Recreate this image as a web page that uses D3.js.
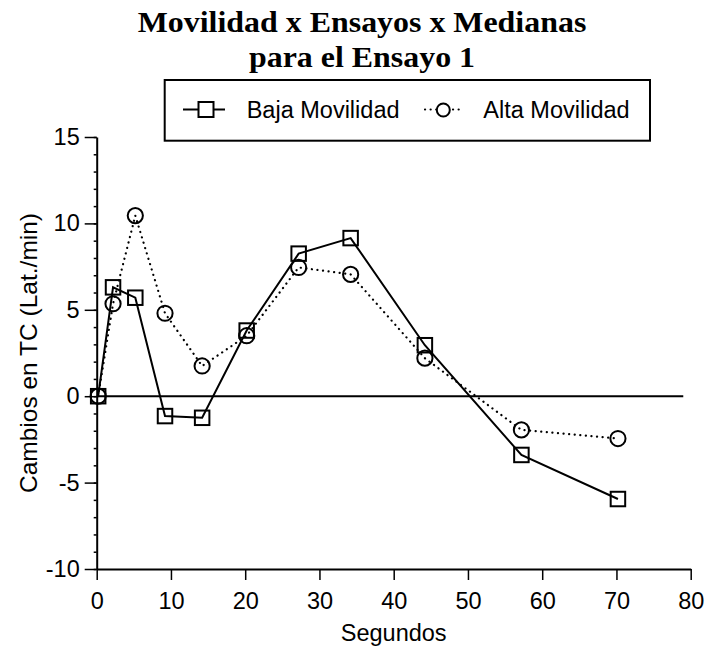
<!DOCTYPE html>
<html>
<head>
<meta charset="utf-8">
<script src="https://cdn.jsdelivr.net/npm/d3@7"></script>
<style>
  html, body { margin: 0; padding: 0; background: #fff; }
  svg { display: block; }
</style>
</head>
<body>
<svg id="chart" width="706" height="649"></svg>
<script>
// Median heart-rate change per second, by mobility group (trial 1)
const seconds = [0.2, 2.2, 5.2, 9.2, 14.2, 20.2, 27.2, 34.2, 44.2, 57.2, 70.2];
const bajaMovilidad = [0, 6.3, 5.7, -1.15, -1.25, 3.8, 8.25, 9.15, 2.95, -3.4, -5.95];
const altaMovilidad = [0, 5.35, 10.45, 4.8, 1.75, 3.5, 7.45, 7.05, 2.2, -1.95, -2.45];
const xTicks = [0, 10, 20, 30, 40, 50, 60, 70, 80];
const yTicks = [-10, -5, 0, 5, 10, 15];
const titleLines = ["Movilidad x Ensayos x Medianas", "para el Ensayo 1"];
const seriesNames = ["Baja Movilidad", "Alta Movilidad"];

const svg = d3.select("#chart");
const sans = "'Liberation Sans', Arial, Helvetica, sans-serif";
const serif = "'Liberation Serif', 'Times New Roman', Times, serif";
const fmt = d => String(d); // plain hyphen for negatives

const x = d3.scaleLinear().domain([0, 80]).range([96.7, 690.7]);
const y = d3.scaleLinear().domain([-10, 15]).range([569, 137]);

// Text slightly widened horizontally
const wide = (sel, cx, cy, sx) => sel.attr("transform", `translate(${cx},${cy}) scale(${sx},1)`);

// Title
svg.append("g").selectAll("text").data(titleLines).join("text")
  .each(function (d, i) { wide(d3.select(this), 362, 32 + i * 35, 1.12); })
  .attr("text-anchor", "middle")
  .attr("font-family", serif).attr("font-weight", "bold").attr("font-size", 28.5)
  .attr("fill", "#000").text(d => d);

// Minor y ticks
svg.append("g").attr("transform", `translate(${x(0)},0)`)
  .call(d3.axisLeft(y).tickValues(d3.range(-10, 16, 1)).tickSize(3).tickFormat(""))
  .call(g => g.select(".domain").remove())
  .call(g => g.selectAll("line").attr("stroke", "#000").attr("stroke-width", 1.5));

// Y axis
svg.append("g").attr("transform", `translate(${x(0)},0)`)
  .call(d3.axisLeft(y).tickValues(yTicks).tickFormat(fmt).tickSize(12).tickSizeOuter(0).tickPadding(5))
  .call(g => g.select(".domain").attr("stroke", "#000").attr("stroke-width", 2))
  .call(g => g.selectAll(".tick line").attr("stroke", "#000").attr("stroke-width", 1.5))
  .call(g => g.selectAll("text").attr("font-family", sans).attr("font-size", 23.5).attr("fill", "#000"));

// X axis
svg.append("g").attr("transform", `translate(0,${y(-10)})`)
  .call(d3.axisBottom(x).tickValues(xTicks).tickFormat(fmt).tickSize(11).tickSizeOuter(0).tickPadding(12))
  .call(g => g.select(".domain").attr("stroke", "#000").attr("stroke-width", 2))
  .call(g => g.selectAll(".tick line").attr("stroke", "#000").attr("stroke-width", 1.5))
  .call(g => g.selectAll("text").attr("font-family", sans).attr("font-size", 23.5).attr("fill", "#000"));

// Zero reference line
svg.append("line")
  .attr("x1", x(0)).attr("x2", x(79))
  .attr("y1", y(0)).attr("y2", y(0))
  .attr("stroke", "#000").attr("stroke-width", 2);

// Axis titles
svg.append("text")
  .attr("x", (x(0) + x(80)) / 2).attr("y", 641)
  .attr("text-anchor", "middle")
  .attr("font-family", sans).attr("font-size", 23.5).attr("fill", "#000")
  .text("Segundos");

svg.append("text")
  .attr("transform", `translate(37,${(y(15) + y(-10)) / 2}) rotate(-90)`)
  .attr("text-anchor", "middle")
  .attr("font-family", sans).attr("font-size", 24.5).attr("fill", "#000")
  .text("Cambios en TC (Lat./min)");

const line = d3.line().x(d => x(d[0])).y(d => y(d[1]));
const bajaPts = seconds.map((s, i) => [s, bajaMovilidad[i]]);
const altaPts = seconds.map((s, i) => [s, altaMovilidad[i]]);

// Alta movilidad: dotted line with circles
svg.append("path").datum(altaPts)
  .attr("d", line).attr("fill", "none")
  .attr("stroke", "#000").attr("stroke-width", 2.2)
  .attr("stroke-dasharray", "0.1,5.5").attr("stroke-linecap", "round");

svg.append("g").selectAll("circle").data(altaPts).join("circle")
  .attr("cx", d => x(d[0])).attr("cy", d => y(d[1])).attr("r", 7.6)
  .attr("fill", "none").attr("stroke", "#000").attr("stroke-width", 2);

// Baja movilidad: solid line with squares
svg.append("path").datum(bajaPts)
  .attr("d", line).attr("fill", "none")
  .attr("stroke", "#000").attr("stroke-width", 2);

const sq = 14.5;
svg.append("g").selectAll("rect").data(bajaPts).join("rect")
  .attr("x", d => x(d[0]) - sq / 2).attr("y", d => y(d[1]) - sq / 2)
  .attr("width", sq).attr("height", sq)
  .attr("fill", "none").attr("stroke", "#000").attr("stroke-width", 2);

// Legend
const legend = svg.append("g");
legend.append("rect")
  .attr("x", 164.7).attr("y", 80).attr("width", 485.3).attr("height", 60.7)
  .attr("fill", "#fff").attr("stroke", "#000").attr("stroke-width", 2);

legend.append("line")
  .attr("x1", 183).attr("x2", 225).attr("y1", 109.5).attr("y2", 109.5)
  .attr("stroke", "#000").attr("stroke-width", 2);
legend.append("rect")
  .attr("x", 206 - 7.5).attr("y", 102).attr("width", 15).attr("height", 15)
  .attr("fill", "#fff").attr("stroke", "#000").attr("stroke-width", 2);

legend.append("line")
  .attr("x1", 425).attr("x2", 462).attr("y1", 109.5).attr("y2", 109.5)
  .attr("stroke", "#000").attr("stroke-width", 2.2)
  .attr("stroke-dasharray", "0.1,5.5").attr("stroke-linecap", "round");
legend.append("circle")
  .attr("cx", 443.3).attr("cy", 110).attr("r", 6.5)
  .attr("fill", "#fff").attr("stroke", "#000").attr("stroke-width", 2);

legend.selectAll("text").data(seriesNames).join("text")
  .attr("x", (d, i) => i === 0 ? 246.7 : 483.3).attr("y", 117.5)
  .attr("font-family", sans).attr("font-size", 23.5).attr("fill", "#000")
  .text(d => d);
</script>
</body>
</html>
